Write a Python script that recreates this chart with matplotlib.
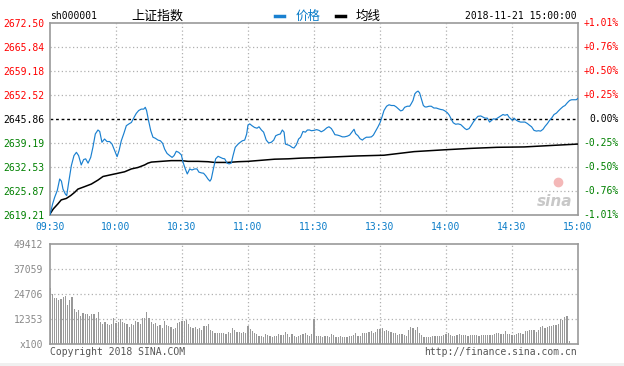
"""Intraday chart of the SSE Composite (sh000001) on 2018-11-21, sina style."""

import matplotlib
matplotlib.use("Agg")
import matplotlib.pyplot as plt
import matplotlib.transforms as mtransforms
from matplotlib.lines import Line2D
from matplotlib.patches import Rectangle

# ---- data ----------------------------------------------------------------
prev_close = 2645.86
price_levels = [2619.21, 2625.87, 2632.53, 2639.19, 2645.86,
                2652.52, 2659.18, 2665.84, 2672.50]
pct_labels = ["-1.01%", "-0.76%", "-0.50%", "-0.25%", "0.00%",
              "+0.25%", "+0.50%", "+0.76%", "+1.01%"]
time_labels = ["09:30", "10:00", "10:30", "11:00", "11:30",
               "13:30", "14:00", "14:30", "15:00"]
vol_levels = [0, 12353, 24706, 37059, 49412]
vol_labels = ["x100", "12353", "24706", "37059", "49412"]

# minutes since 09:30 (trading time) and price
price_min = [0, 1.2, 2.1, 3.3, 4.4, 5.2, 5.9, 7.0, 7.6, 8.5, 9.7, 10.9, 12.0, 13.0,
             14.2, 15.3, 16.2, 17.3, 18.5, 19.5, 20.6, 21.8, 22.6, 23.6, 24.8, 25.9,
             27.1, 28.2, 29.4, 30.5, 31.4, 32.4, 33.6, 34.7, 35.9, 37.0, 38.2, 39.2,
             40.3, 41.5, 42.6, 43.3, 43.9, 44.8, 45.8, 46.8, 47.9, 49.1, 50.2, 51.2,
             52.1, 53.2, 54.4, 55.5, 56.4, 57.4, 58.5, 59.7, 60.5, 61.5, 62.4, 63.5,
             64.5, 65.8, 66.8, 67.7, 68.8, 69.8, 70.8, 71.8, 72.7, 73.3, 74.4, 75.3,
             76.4, 77.4, 78.5, 79.4, 80.5, 81.4, 82.4, 83.2, 84.2, 85.5, 86.5, 87.4,
             88.5, 89.4, 90.0, 90.8, 91.8, 93.0, 94.1, 95.0, 96.1, 97.1, 98.3, 99.4,
             100.6, 101.7, 102.6, 103.6, 104.7, 105.6, 106.4, 107.0, 107.9, 108.9,
             110.0, 110.9, 112.0, 113.0, 113.9, 115.0, 116.1, 117.0, 118.0, 118.8,
             120.0, 121.2, 122.3, 123.3, 124.5, 125.8, 126.8, 127.9, 128.8, 129.5,
             130.6, 131.7, 132.9, 133.9, 135.2, 136.2, 137.1, 138.2, 138.9, 140.0,
             140.9, 142.0, 142.7, 143.8, 145.0, 146.1, 147.0, 148.0, 149.1, 150.0,
             150.9, 151.8, 153.0, 154.1, 155.2, 156.4, 157.4, 158.3, 159.4, 160.3,
             161.2, 162.4, 163.5, 164.2, 165.0, 165.8, 166.5, 167.3, 168.0, 168.8,
             169.7, 170.5, 171.2, 172.3, 173.3, 174.5, 175.6, 176.5, 177.6, 178.6,
             179.5, 180.6, 181.5, 182.4, 183.3, 184.4, 185.5, 186.7, 187.7, 188.6,
             189.4, 190.5, 191.5, 192.4, 193.5, 194.5, 195.8, 196.8, 197.7, 198.8,
             199.8, 200.8, 201.5, 202.6, 203.6, 204.8, 205.9, 206.8, 207.9, 208.6,
             209.4, 210.2, 210.9, 212.0, 212.9, 213.9, 215.0, 215.9, 217.0, 218.0,
             218.9, 220.0, 221.1, 222.0, 223.0, 224.1, 225.0, 226.1, 227.1, 228.0,
             229.1, 230.2, 231.1, 232.1, 233.2, 234.1, 235.2, 236.2, 237.1, 238.2,
             239.2, 240.0]
price_val = [2619.3, 2622.3, 2624.1, 2626.0, 2629.2, 2628.6, 2626.4, 2625.0, 2624.6,
             2628.3, 2632.9, 2635.7, 2636.6, 2635.7, 2633.1, 2634.6, 2634.8, 2633.6,
             2635.2, 2638.0, 2641.7, 2642.8, 2642.4, 2639.4, 2640.3, 2639.6, 2639.6,
             2638.9, 2637.1, 2635.4, 2637.1, 2639.8, 2641.9, 2644.0, 2644.5, 2644.9,
             2646.3, 2647.4, 2648.2, 2648.6, 2648.6, 2649.1, 2648.2, 2645.4, 2642.6,
             2640.8, 2640.5, 2640.0, 2639.8, 2639.1, 2637.5, 2636.3, 2635.7, 2635.2,
             2635.7, 2636.9, 2636.6, 2635.9, 2633.8, 2632.0, 2630.6, 2632.0, 2631.7,
             2632.0, 2632.0, 2631.1, 2630.9, 2630.8, 2630.1, 2629.2, 2628.6, 2629.2,
             2632.4, 2634.8, 2635.5, 2635.2, 2634.9, 2634.8, 2633.6, 2633.4, 2633.6,
             2635.7, 2638.0, 2638.9, 2639.4, 2639.8, 2640.0, 2641.7, 2644.2, 2644.5,
             2644.0, 2643.5, 2643.3, 2643.7, 2642.8, 2642.2, 2640.0, 2639.2, 2639.4,
             2640.0, 2641.2, 2641.5, 2641.7, 2642.8, 2642.2, 2638.9, 2638.7, 2638.5,
             2638.0, 2637.8, 2638.7, 2640.3, 2640.8, 2642.4, 2642.2, 2642.8, 2642.8,
             2642.6, 2642.7, 2642.9, 2642.7, 2642.3, 2642.7, 2643.4, 2643.7, 2643.2,
             2642.3, 2641.5, 2641.4, 2641.2, 2640.9, 2640.9, 2641.1, 2641.4, 2642.1,
             2643.0, 2641.8, 2641.2, 2640.4, 2640.0, 2640.4, 2640.8, 2640.8, 2640.9,
             2641.4, 2642.5, 2643.7, 2644.8, 2646.4, 2648.2, 2649.4, 2649.8, 2649.6,
             2649.6, 2649.2, 2648.7, 2648.1, 2648.3, 2649.1, 2649.4, 2649.4, 2650.1,
             2651.0, 2652.8, 2653.3, 2653.6, 2653.1, 2651.5, 2649.6, 2649.2, 2649.2,
             2649.4, 2649.4, 2648.9, 2648.9, 2648.7, 2648.5, 2648.4, 2648.1, 2647.6,
             2646.9, 2645.8, 2644.8, 2644.4, 2644.5, 2644.3, 2643.7, 2643.2, 2642.9,
             2643.2, 2644.1, 2645.0, 2645.9, 2646.6, 2646.7, 2646.4, 2646.1, 2646.1,
             2645.0, 2645.5, 2645.9, 2645.8, 2646.2, 2646.7, 2647.1, 2646.9, 2647.1,
             2646.4, 2645.9, 2645.5, 2646.1, 2645.5, 2645.2, 2645.0, 2645.0, 2645.0,
             2644.6, 2644.1, 2643.7, 2642.7, 2642.5, 2642.6, 2642.5, 2643.0, 2643.8,
             2644.6, 2645.5, 2646.1, 2647.1, 2647.5, 2648.1, 2648.7, 2649.3, 2649.6,
             2650.4, 2651.0, 2651.2, 2651.2, 2651.2, 2651.6]

# average price line
avg_min = [0, 1.5, 3.6, 5.1, 7.4, 9.4, 11.2, 12.7, 15.8, 18.8, 21.8, 24.1, 27.1,
           30.9, 33.9, 37.0, 40.0, 43.0, 44.5, 46.1, 50.6, 55.1, 59.7, 62.7, 67.3,
           71.8, 74.8, 80.9, 85.5, 90.0, 96.1, 102.1, 108.2, 114.2, 120.0, 139.7,
           151.8, 165.5, 179.1, 191.2, 203.3, 215.5, 227.6, 240.0]
avg_val = [2619.5, 2620.9, 2622.3, 2623.4, 2623.8, 2624.6, 2625.5, 2626.4, 2627.1,
           2627.8, 2628.9, 2629.9, 2630.3, 2630.8, 2631.2, 2632.0, 2632.4, 2633.1,
           2633.6, 2633.9, 2634.1, 2634.3, 2634.3, 2634.1, 2634.1, 2634.0, 2633.8,
           2633.8, 2634.0, 2634.1, 2634.4, 2634.7, 2634.8, 2635.0, 2635.1, 2635.6,
           2635.8, 2636.8, 2637.3, 2637.7, 2638.0, 2638.1, 2638.5, 2638.9]

# per-minute volume, in units of 100 shares
volume = [27500, 24700, 22500, 22500, 21700, 22000, 23000, 23500, 19200, 21500,
          23000, 17500, 15700, 16800, 14000, 15300, 15000, 14800, 13700, 15000,
          15000, 13000, 15700, 10800, 9700, 10800, 9700, 9300, 9700, 12700,
          10300, 10700, 12300, 10800, 10200, 9700, 8200, 10000, 9300, 11300,
          10700, 9800, 12700, 12800, 15700, 13000, 11000, 10000, 10500, 9000,
          9200, 7700, 11200, 9500, 8700, 8200, 7300, 8000, 10300, 10800,
          11500, 11300, 11700, 10000, 8500, 7700, 8200, 7300, 7700, 7000,
          8700, 8700, 10000, 7000, 6300, 5300, 5200, 5200, 5200, 5300,
          5000, 5700, 5200, 8000, 7000, 5700, 5700, 5200, 5700, 5200,
          9000, 7600, 6600, 5600, 5100, 4100, 4100, 3600, 4900, 4400,
          4100, 3600, 3800, 3800, 4700, 4400, 4400, 6100, 5100, 3500,
          4700, 3800, 3600, 4000, 4400, 4700, 5400, 4400, 4100, 4700,
          12500, 4000, 4000, 4000, 3700, 4000, 4000, 3500, 5000, 4500,
          3500, 3500, 4000, 3500, 3500, 3500, 4000, 4000, 4300, 5500,
          4000, 4000, 5500, 5500, 5500, 6000, 6500, 5500, 6000, 7500,
          7500, 8000, 6500, 7000, 6300, 5800, 5500, 5500, 4500, 5000,
          5000, 4500, 4000, 7000, 8500, 7700, 6800, 8500, 5500, 4500,
          3500, 3500, 3500, 3500, 4000, 4000, 4000, 4000, 4000, 4500,
          5000, 5500, 4500, 4000, 4000, 4500, 5000, 4500, 4500, 4500,
          4000, 4500, 4500, 4500, 4500, 4000, 4500, 4500, 4500, 4500,
          4500, 4500, 5000, 5500, 5500, 5000, 5000, 6200, 5000, 5000,
          4500, 4500, 5000, 5500, 5500, 5000, 6500, 6500, 7000, 7000,
          7000, 6000, 7000, 8500, 9000, 8000, 8500, 9000, 9000, 9500,
          9500, 10000, 12300, 11700, 13400, 14000, 1500]

# ---- styling ------------------------------------------------------------------
RED, GREEN, BLUE = "#ff0000", "#008000", "#0a7cc8"
GRID, BORDER = "#b0b0b0", "#999999"
MONO = "DejaVu Sans Mono"
CJK = ["Noto Sans CJK SC", "DejaVu Sans"]

W, H = 624, 366
fig = plt.figure(figsize=(W / 100, H / 100), dpi=100)


def box(x0, y0, x1, y1):
    """pixel box (top-left origin) -> figure fraction rect"""
    return [x0 / W, 1 - y1 / H, (x1 - x0) / W, (y1 - y0) / H]


ax = fig.add_axes(box(50, 23, 578, 215))
axv = fig.add_axes(box(50, 244, 578, 344))
xticks = list(range(0, 241, 30))

for a in (ax, axv):
    a.set_xlim(0, 240)
    for s in a.spines.values():
        s.set_color(BORDER)
        s.set_linewidth(1.2)
    for x in xticks[1:-1]:
        a.axvline(x, color=GRID, lw=0.9, ls=(0, (1, 2)), zorder=0)

# price panel
ax.set_ylim(price_levels[0], price_levels[-1])
for lv in price_levels[1:-1]:
    if lv == prev_close:
        ax.axhline(lv, color="black", lw=1.0, ls=(0, (2, 2)), zorder=1)
    else:
        ax.axhline(lv, color=GRID, lw=0.9, ls=(0, (1, 2)), zorder=0)
ax.plot(avg_min, avg_val, color="black", lw=1.1, zorder=3)
ax.plot(price_min, price_val, color="#1a80d0", lw=0.85, zorder=4)

ax.set_xticks(xticks)
ax.set_xticklabels(time_labels, fontfamily=MONO, fontsize=7, color=BLUE)
ax.tick_params(axis="x", length=0, pad=5)
ax.set_yticks(price_levels)
ax.set_yticklabels([f"{v:.2f}" for v in price_levels], fontfamily=MONO, fontsize=7)
ax.tick_params(axis="y", length=0, pad=4)


def level_color(v):
    if abs(v - prev_close) < 0.005:
        return "black"
    return RED if v > prev_close else GREEN


for lbl, v in zip(ax.get_yticklabels(), price_levels):
    lbl.set_color(level_color(v))

# right hand percentage labels
tr = mtransforms.blended_transform_factory(fig.transFigure, ax.transData)
for v, t in zip(price_levels, pct_labels):
    fig.text(619 / W, v, t, transform=tr, ha="right", va="center",
             fontfamily=MONO, fontsize=7, color=level_color(v))

# sina watermark
ax.text(0.955, 0.07, "sina", transform=ax.transAxes, ha="center", va="center",
        fontsize=11, fontweight="bold", style="italic", color="#c8c8c8", zorder=2)
ax.plot([0.962], [0.17], transform=ax.transAxes, marker="o", ms=6,
        color="#f4b8b8", zorder=2)

# volume panel
axv.set_ylim(0, vol_levels[-1])
for lv in vol_levels[1:-1]:
    axv.axhline(lv, color=GRID, lw=0.9, ls=(0, (1, 2)), zorder=0)
axv.bar(range(len(volume)), volume, width=0.55, color="#999999", zorder=2)
axv.set_xticks([])
axv.set_yticks(vol_levels)
axv.set_yticklabels(vol_labels, fontfamily=MONO, fontsize=7, color="#888888")
axv.tick_params(axis="y", length=0, pad=5)

# header
fig.text(50 / W, 1 - 16 / H, "sh000001", fontfamily=MONO, fontsize=7, va="center")
fig.text(131 / W, 1 - 16 / H, "上证指数", family=CJK, fontsize=9.4, va="center")
fig.add_artist(Line2D([275 / W, 284 / W], [1 - 16 / H] * 2, color="#1a80d0", lw=2.5))
fig.text(296 / W, 1 - 16 / H, "价格", family=CJK, fontsize=9, va="center", color=BLUE)
fig.add_artist(Line2D([336 / W, 345 / W], [1 - 16 / H] * 2, color="black", lw=2.5))
fig.text(356 / W, 1 - 16 / H, "均线", family=CJK, fontsize=9, va="center")
fig.text(577 / W, 1 - 16 / H, "2018-11-21 15:00:00", fontfamily=MONO, fontsize=7,
         va="center", ha="right")

# footer
fig.text(50 / W, 1 - 352 / H, "Copyright 2018 SINA.COM", fontfamily=MONO,
         fontsize=7, va="center", color="#555555")
fig.text(577 / W, 1 - 352 / H, "http://finance.sina.com.cn", fontfamily=MONO,
         fontsize=7, va="center", ha="right", color="#555555")
fig.add_artist(Rectangle((0, 0), 1, 3 / H, transform=fig.transFigure,
                         color="#f0f0f0", lw=0))

fig.savefig("out.png", dpi=100)
